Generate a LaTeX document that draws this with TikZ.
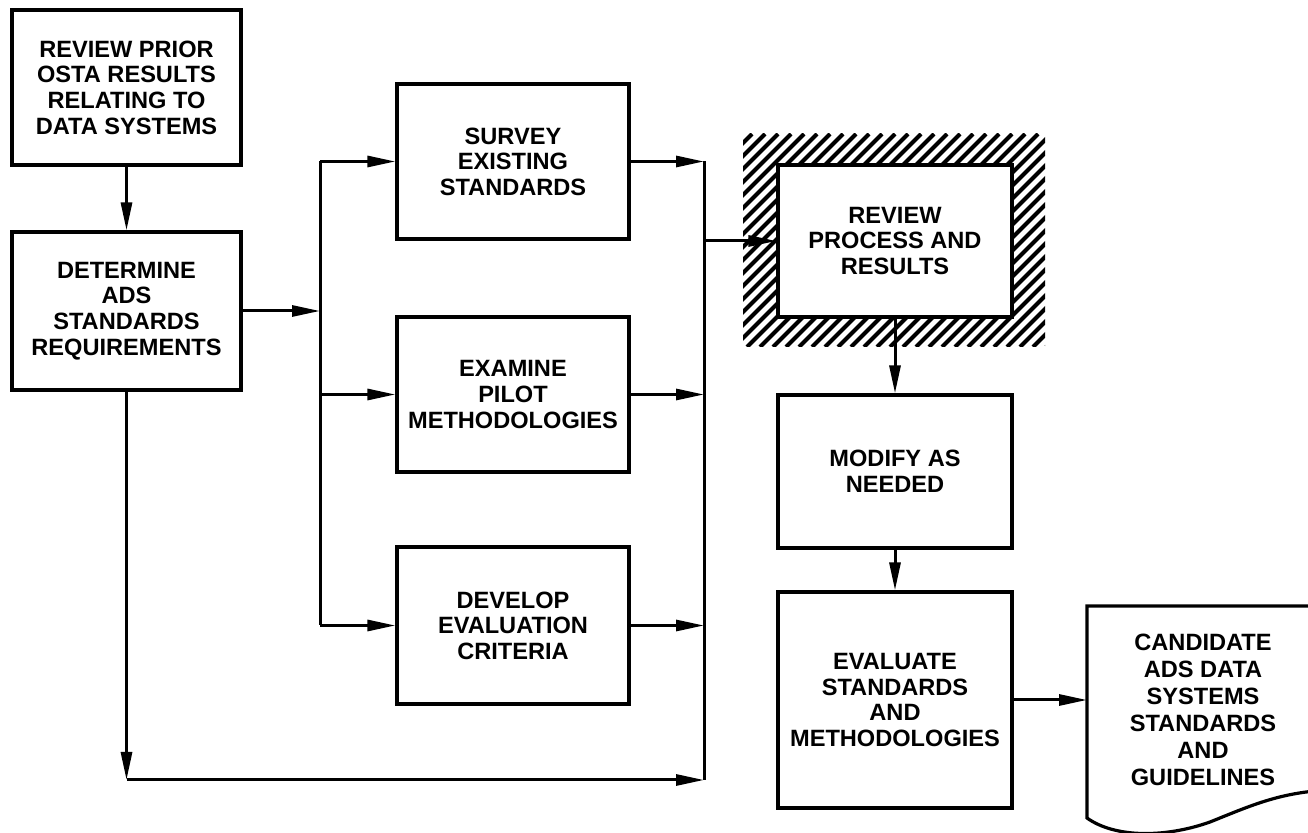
\documentclass[tikz,border=0pt]{standalone}
\usepackage{fontspec}
\setmainfont{Liberation Sans}
\usetikzlibrary{arrows.meta}
\begin{document}
\begin{tikzpicture}[x=0.5pt,y=-0.5pt,
  box/.style={draw, line width=1.6pt, fill=white, inner sep=0pt, align=center,
    font=\bfseries\fontsize{11.8}{12.8}\selectfont},
  txt/.style={inner sep=0pt, align=center, font=\bfseries\fontsize{11.8}{13.5}\selectfont},
  ln/.style={line width=1.5pt},
  arr/.style={line width=1.5pt, -{Triangle[length=14pt,width=5.5pt]}},
  hatch/.style={line width=2pt}]
\useasboundingbox (0,0) rectangle (1308,833);
\clip (0,0) rectangle (1308,833);

% hatched surround of the review box
\begin{scope}
  \clip (743,134) rectangle (1045,347);
  \foreach \k in {-230,-217,...,320}
    \draw[hatch] ({743+\k},347) -- ({743+\k+213},134);
\end{scope}

% boxes
\node[box, minimum width=114.5pt, minimum height=77.5pt] (b1) at (126.5,87.5)
  {REVIEW PRIOR\\OSTA RESULTS\\RELATING TO\\DATA SYSTEMS};
\node[box, minimum width=114.5pt, minimum height=79pt] (b2) at (126.5,311)
  {DETERMINE\\ADS\\STANDARDS\\REQUIREMENTS};
\node[box, minimum width=116pt, minimum height=77.5pt] (sv) at (513,161.5)
  {SURVEY\\EXISTING\\STANDARDS};
\node[box, minimum width=116pt, minimum height=77.5pt] (ex) at (513,394.5)
  {EXAMINE\\PILOT\\METHODOLOGIES};
\node[box, minimum width=116pt, minimum height=78.5pt] (dv) at (513,625.5)
  {DEVELOP\\EVALUATION\\CRITERIA};
\node[box, minimum width=117pt, minimum height=76pt] (rv) at (895,241)
  {REVIEW\\PROCESS AND\\RESULTS};
\node[box, minimum width=117pt, minimum height=76.5pt] (md) at (895,471.5)
  {MODIFY AS\\NEEDED};
\node[box, minimum width=117pt, minimum height=108pt] (ev) at (895,700)
  {EVALUATE\\STANDARDS\\AND\\METHODOLOGIES};

% document shape
\coordinate (dtl) at (1087,606);
\coordinate (dbl) at (1087,818);
\coordinate (dw) at (1087,700);
\draw[line width=1.6pt] (1330,606) -- (dtl) -- (dbl)
  .. controls (1115,838) and (1165,838) .. (1210,822)
  .. controls (1250,806) and (1280,792) .. (1330,790);
\node[txt] (doc) at (1203,710)
  {CANDIDATE\\ADS DATA\\SYSTEMS\\STANDARDS\\AND\\GUIDELINES};

% connector coordinates
\coordinate (bt) at (320,161.5);
\coordinate (bb) at (320,625.5);
\coordinate (rt) at (704,161.5);
\coordinate (rb) at (704,780);
\coordinate (lc) at (126.5,780);

% connectors
\draw[arr] (b1) -- (b2);
\draw[arr] (b2.east) -- (b2.east -| bt);
\draw[ln] (bt) -- (bb);
\draw[arr] (bt) -- (sv.west);
\draw[arr] (ex.west -| bt) -- (ex.west);
\draw[arr] (bb) -- (dv.west);
\draw[ln] (rt) -- (rb);
\draw[arr] (sv.east) -- (rt);
\draw[arr] (ex.east) -- (ex.east -| rt);
\draw[arr] (dv.east) -- (dv.east -| rt);
\draw[arr] (b2.south) -- (lc);
\draw[arr] (lc) -- (rb);
\draw[arr] (rv.west -| rt) -- (rv.west);
\draw[arr] (rv) -- (md);
\draw[arr] (md) -- (ev);
\draw[arr] (ev.east) -- (dw);
\end{tikzpicture}
\end{document}
